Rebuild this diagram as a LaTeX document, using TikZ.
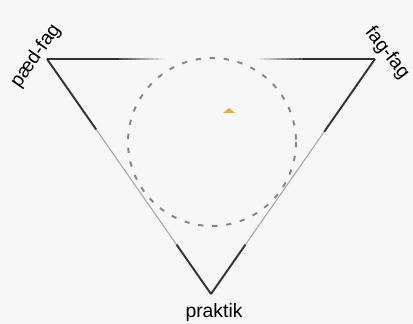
\documentclass[tikz,border=0pt]{standalone}
\usepackage{fontspec}
\setmainfont{Liberation Sans}
\usetikzlibrary{calc}
\definecolor{paper}{HTML}{F7F7F7}
\definecolor{edge}{HTML}{333333}
\definecolor{faint}{HTML}{A6A6A6}
\definecolor{dots}{HTML}{858585}
\definecolor{amber}{HTML}{E6AE45}
\tikzset{
  dark/.style={edge,line width=1.1pt},
  light/.style={faint,line width=0.6pt},
  label/.style={font=\fontsize{11}{13}\selectfont,inner sep=0pt}
}
\begin{document}
\begin{tikzpicture}[x=0.02cm,y=-0.02cm]
  \fill[paper] (0,0) rectangle (413,324);
  \useasboundingbox (0,0) rectangle (413,324);
  % corners
  \coordinate (paed) at (47,59);
  \coordinate (fag) at (375,59);
  \coordinate (prak) at (211,294);
  % dashed ring
  \draw[dots,dash pattern=on 3pt off 5pt,line width=1.1pt] (212,142) circle (84);
  % top edge, fading out in the middle
  \draw[dark] (paed) -- ($(paed)!0.22!(fag)$);
  \draw[dark] (fag) -- ($(fag)!0.22!(paed)$);
  \foreach \k [evaluate=\k as \p using {int(85-8*\k)},
               evaluate=\k as \a using {0.22+0.013*\k},
               evaluate=\k as \b using {0.22+0.013*(\k+1)}] in {0,...,10} {
    \draw[line width=1.1pt,edge!\p!paper] ($(paed)!\a!(fag)$) -- ($(paed)!\b!(fag)$);
    \draw[line width=1.1pt,edge!\p!paper] ($(fag)!\a!(paed)$) -- ($(fag)!\b!(paed)$);
  }
  % side edges
  \draw[dark] (paed) -- ($(paed)!0.3!(prak)$);
  \draw[light] ($(paed)!0.3!(prak)$) -- ($(paed)!0.79!(prak)$);
  \draw[dark] ($(paed)!0.79!(prak)$) -- (prak);
  \draw[dark] (fag) -- ($(fag)!0.31!(prak)$);
  \draw[light] ($(fag)!0.31!(prak)$) -- ($(fag)!0.79!(prak)$);
  \draw[dark] ($(fag)!0.79!(prak)$) -- (prak);
  % marker
  \fill[amber] (223,113) -- (235,113) -- (229,108) -- cycle;
  % labels
  \node[label,rotate=55] (lpaed) at (36,56) {pæd-fag};
  \node[label,rotate=-52] (lfag) at (387,53) {fag-fag};
  \node[label] (lprak) at (214,313) {praktik};
\end{tikzpicture}
\end{document}
